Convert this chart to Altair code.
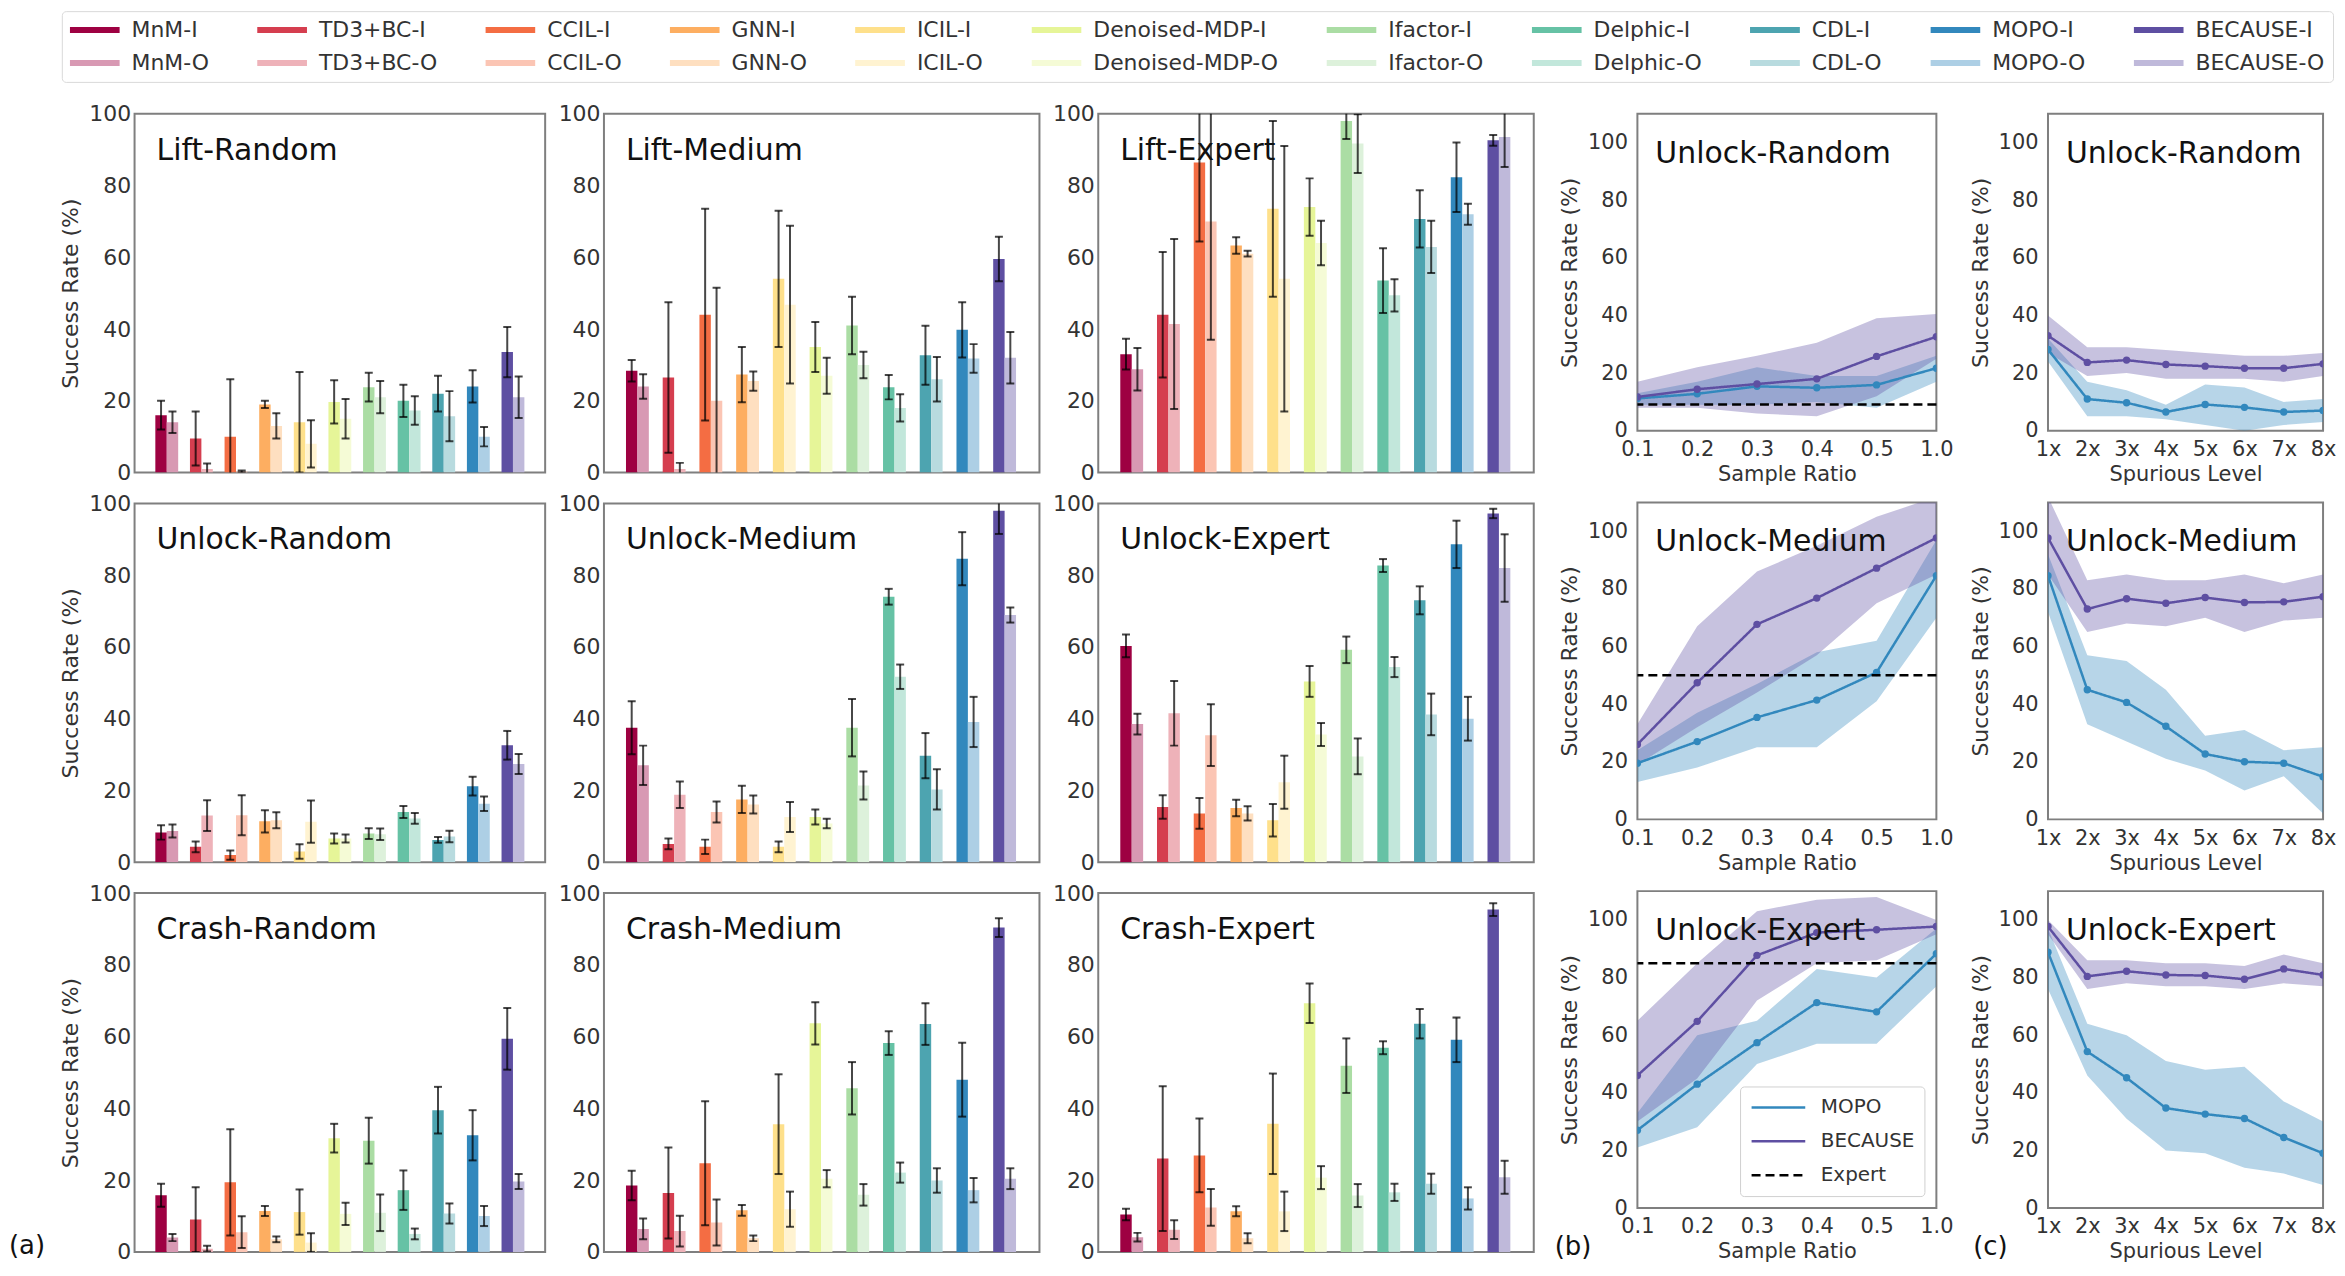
import altair as alt
import pandas as pd

FONT = "DejaVu Sans"

# ---------------- categories & colours ----------------
methods = ["MnM", "TD3+BC", "CCIL", "GNN", "ICIL", "Denoised-MDP",
           "Ifactor", "Delphic", "CDL", "MOPO", "BECAUSE"]
colors_I = ["#9e0142", "#d53e4f", "#f46d43", "#fdae61", "#fee08b", "#e6f598",
            "#abdda4", "#66c2a5", "#4da4b0", "#3288bd", "#5e4fa2"]
colors_O = ["#d899b3", "#eeb2b9", "#fbc5b4", "#fedfc0", "#fff3d1", "#f5fbd6",
            "#ddf1db", "#c2e7db", "#b8dbdf", "#adcfe5", "#bfb9da"]
# legend fills column by column: I above O for each method
series_domain = []
series_range = []
for _m, _ci, _co in zip(methods, colors_I, colors_O):
    series_domain += [_m + "-I", _m + "-O"]
    series_range += [_ci, _co]

MOPO_C = "#3288bd"
BEC_C = "#5e4fa2"

# ---------------- (a) bar values: mean and error ----------------
LIFT_RANDOM_I = [16, 9.5, 10, 19, 14, 19.7, 23.8, 20, 22, 24, 33.6]
LIFT_RANDOM_I_ERR = [4, 7.5, 16, 1, 14, 6, 4, 4.5, 5, 4.5, 7]
LIFT_RANDOM_O = [14, 1, 0.3, 13, 8, 15, 21, 17.3, 15.7, 10, 21]
LIFT_RANDOM_O_ERR = [3, 1.5, 0.3, 3.5, 6.6, 5.5, 4.5, 4, 7, 2.7, 5.8]

LIFT_MEDIUM_I = [28.4, 26.5, 44, 27.3, 54, 35, 41, 23.8, 32.7, 39.8, 59.5]
LIFT_MEDIUM_I_ERR = [3, 21, 29.5, 7.7, 19, 7, 8, 3.4, 8.2, 7.7, 6.2]
LIFT_MEDIUM_O = [24, 1, 20, 25.5, 46.8, 27, 30, 18, 26, 31.8, 32]
LIFT_MEDIUM_O_ERR = [3.4, 1.7, 31.5, 2.7, 22, 5, 3.7, 3.8, 6.2, 4, 7.2]

LIFT_EXPERT_I = [33, 44, 86.4, 63.3, 73.5, 74, 98, 53.5, 70.7, 82.3, 92.6]
LIFT_EXPERT_I_ERR = [4.3, 17.5, 22, 2.3, 24.5, 8, 5, 9, 8, 9.7, 1.5]
LIFT_EXPERT_O = [28.8, 41.4, 70, 61, 54, 64, 91.7, 49.4, 62.9, 72, 93.5]
LIFT_EXPERT_O_ERR = [5.9, 23.7, 33, 0.8, 37, 6.2, 8.2, 4.5, 7.3, 2.9, 8.3]

UNLOCK_RANDOM_I = [8.3, 4.3, 2, 11.4, 3, 6.6, 8, 14, 6.2, 21.2, 32.6]
UNLOCK_RANDOM_I_ERR = [2, 1.5, 1.3, 3.1, 2, 1.4, 1.5, 1.7, 0.8, 2.6, 4]
UNLOCK_RANDOM_O = [8.7, 13, 13.1, 11.7, 11.3, 6.6, 7.8, 12.2, 7.2, 16.3, 27.4]
UNLOCK_RANDOM_O_ERR = [1.8, 4.3, 5.6, 2.2, 5.9, 1.1, 1.6, 1.5, 1.6, 2, 2.8]

UNLOCK_MEDIUM_I = [37.5, 5.1, 4.3, 17.5, 4.3, 12.6, 37.5, 74, 29.7, 84.6, 98]
UNLOCK_MEDIUM_I_ERR = [7.4, 1.5, 2, 3.8, 1.5, 2.1, 8, 2.2, 6.3, 7.4, 6.5]
UNLOCK_MEDIUM_O = [27, 18.8, 14, 16.1, 12.6, 10.8, 21.4, 51.7, 20.3, 39.1, 68.9]
UNLOCK_MEDIUM_O_ERR = [5.5, 3.7, 2.9, 2.5, 4.2, 1.3, 3.9, 3.4, 5.6, 7, 2.1]

UNLOCK_EXPERT_I = [60.3, 15.4, 13.6, 15.1, 11.7, 50.4, 59.2, 82.7, 73, 88.6, 97.2]
UNLOCK_EXPERT_I_ERR = [3.2, 3.3, 4.3, 2.3, 4.5, 4.3, 3.7, 1.8, 3.9, 6.6, 1.3]
UNLOCK_EXPERT_O = [38.5, 41.5, 35.4, 13.6, 22.3, 35.6, 29.5, 54.4, 41.2, 40, 82]
UNLOCK_EXPERT_O_ERR = [2.9, 9, 8.6, 2, 7.4, 3.2, 5, 2.8, 5.8, 6.1, 9.4]

CRASH_RANDOM_I = [15.8, 9, 19.4, 11.4, 11.1, 31.7, 31, 17.2, 39.5, 32.5, 59.4]
CRASH_RANDOM_I_ERR = [3.2, 9, 14.8, 1.4, 6.3, 4, 6.4, 5.5, 6.5, 7, 8.6]
CRASH_RANDOM_O = [4, 0.9, 5.5, 3.5, 2.6, 10.6, 10.9, 5, 10.7, 10, 19.6]
CRASH_RANDOM_O_ERR = [1, 0.8, 4.4, 0.8, 2.6, 3.1, 5.1, 1.5, 2.8, 2.8, 2.1]

CRASH_MEDIUM_I = [18.5, 16.4, 24.7, 11.6, 35.6, 63.7, 45.6, 58.2, 63.5, 48, 90.4]
CRASH_MEDIUM_I_ERR = [4.1, 12.7, 17.3, 1.5, 13.9, 5.9, 7.3, 3.3, 5.8, 10.3, 2.6]
CRASH_MEDIUM_O = [6.4, 5.8, 8.2, 3.8, 11.9, 20.4, 15.9, 22.1, 19.9, 17.2, 20.4]
CRASH_MEDIUM_O_ERR = [2.9, 4.3, 6.4, 0.8, 4.9, 2.4, 3, 2.8, 3.4, 3.4, 2.9]

CRASH_EXPERT_I = [10.4, 26, 26.9, 11.3, 35.7, 69.3, 51.9, 56.9, 63.6, 59.1, 95.4]
CRASH_EXPERT_I_ERR = [1.6, 20.2, 10.3, 1.4, 14, 5.5, 7.6, 1.8, 4.1, 6.2, 1.8]
CRASH_EXPERT_O = [4.1, 6.2, 12.4, 3.8, 11.3, 20.7, 15.7, 16.6, 19, 14.9, 20.8]
CRASH_EXPERT_O_ERR = [1.2, 2.6, 5.1, 1.4, 5.5, 3.2, 3.2, 2.4, 2.8, 3.1, 4.6]

# ---------------- (b) sample ratio ----------------
ratios = ["0.1", "0.2", "0.3", "0.4", "0.5", "1.0"]
SR_UR_BEC = [11.7, 14.4, 16.2, 18, 25.8, 32.6]
SR_UR_BEC_LO = [8, 8, 6, 5, 12, 25]
SR_UR_BEC_HI = [17, 22, 26, 30.5, 39, 40.5]
SR_UR_MOPO = [11.2, 12.8, 15.4, 14.9, 15.9, 21.7]
SR_UR_MOPO_LO = [9, 9, 9, 10, 8, 17]
SR_UR_MOPO_HI = [13, 17, 22, 19, 19, 26]
SR_UR_EXPERT = 9.1

SR_UM_BEC = [26, 47.4, 67.7, 76.8, 87.2, 97.7]
SR_UM_BEC_LO = [19, 32, 44, 57, 75, 85]
SR_UM_BEC_HI = [33, 67, 86, 95, 105, 112]
SR_UM_MOPO = [19.5, 27, 35.4, 41.4, 51, 84.6]
SR_UM_MOPO_LO = [13, 18, 25, 25, 41, 70]
SR_UM_MOPO_HI = [24, 37, 47, 58, 62, 97]
SR_UM_EXPERT = 50

SR_UE_BEC = [46, 64.8, 87.7, 95.6, 96.6, 97.7]
SR_UE_BEC_LO = [30, 45, 72, 85, 86, 95]
SR_UE_BEC_HI = [65, 85, 103, 107, 108, 100]
SR_UE_MOPO = [27, 43, 57.4, 71.3, 68.1, 88.3]
SR_UE_MOPO_LO = [21, 28, 50, 57, 57, 77]
SR_UE_MOPO_HI = [33, 60, 65, 83, 80, 97]
SR_UE_EXPERT = 85

# ---------------- (c) spurious level ----------------
levels = ["1x", "2x", "3x", "4x", "5x", "6x", "7x", "8x"]
SL_UR_BEC = [33, 23.7, 24.5, 23, 22.4, 21.7, 21.7, 23.2]
SL_UR_BEC_LO = [27, 19, 20, 18, 18, 18, 17, 19]
SL_UR_BEC_HI = [40, 29, 29, 28, 27, 26, 26, 27]
SL_UR_MOPO = [28.2, 11, 9.7, 6.5, 9.1, 8.1, 6.5, 7]
SL_UR_MOPO_LO = [24, 5, 5, 4, 2, 0, 2, 3]
SL_UR_MOPO_HI = [32, 17, 14, 9, 16, 15, 10, 11]

SL_UM_BEC = [97.7, 73, 76.6, 75, 77, 75.3, 75.5, 77.3]
SL_UM_BEC_LO = [85, 65, 68, 67, 70, 65, 69, 70]
SL_UM_BEC_HI = [112, 83, 85, 83, 83, 85, 82, 85]
SL_UM_MOPO = [84.6, 45, 40.6, 32.3, 22.7, 20, 19.5, 14.8]
SL_UM_MOPO_LO = [72, 33, 27, 21, 17, 10, 15, 2]
SL_UM_MOPO_HI = [92, 57, 55, 45, 29, 31, 24, 25]

SL_UE_BEC = [97.7, 80.4, 82.2, 80.9, 80.7, 79.4, 83, 80.9]
SL_UE_BEC_LO = [95, 76, 78, 77, 77, 76, 78, 77]
SL_UE_BEC_HI = [100, 86, 86, 85, 85, 84, 88, 85]
SL_UE_MOPO = [88.8, 54.3, 45.2, 34.7, 32.6, 31.1, 24.5, 19]
SL_UE_MOPO_LO = [76, 46, 31, 20, 19, 14, 12, 8]
SL_UE_MOPO_HI = [97, 64, 60, 51, 48, 49, 37, 30]

# ---------------- legends ----------------
TOP_LEGEND = alt.Legend(
    title=None, orient="none", legendX=-73, legendY=-103, offset=0, columns=11,
    symbolType="M-1,-0.12L1,-0.12L1,0.12L-1,0.12Z", symbolSize=2500,
    symbolStrokeWidth=0, labelFontSize=22, labelFont=FONT, labelColor="#333",
    labelOffset=12, labelLimit=400, columnPadding=48, rowPadding=11,
    clipHeight=22, padding=8, strokeColor="#d9d9d9", fillColor="white",
    cornerRadius=4,
)
B_LEGEND = alt.Legend(
    title=None, orient="bottom-right", offset=12, symbolType="stroke",
    symbolSize=2900, symbolStrokeWidth=2.5, labelFontSize=20, labelFont=FONT,
    labelColor="#333", labelOffset=14, rowPadding=12, clipHeight=22,
    padding=10, strokeColor="#d0d0d0", fillColor="white", cornerRadius=4,
)

A_HEIGHT = 360
B_HEIGHT = 318


def tag_text(label, x, y):
    return alt.Chart(pd.DataFrame({"t": [label]})).mark_text(
        align="left", baseline="alphabetic", fontSize=26, font=FONT, color="#111"
    ).encode(text="t:N", x=alt.value(x), y=alt.value(y))


def bar_panel(title, i_mean, i_err, o_mean, o_err, width, ytitle, tag=None):
    rows = []
    for k, m in enumerate(methods):
        for var, mean, err in (("I", i_mean[k], i_err[k]), ("O", o_mean[k], o_err[k])):
            rows.append({"method": m, "var": var, "series": f"{m}-{var}",
                         "mean": mean, "lo": mean - err, "hi": mean + err})
    df = pd.DataFrame(rows)
    x = alt.X("method:N", sort=methods, axis=None,
              scale=alt.Scale(paddingInner=0.34, paddingOuter=0.6))
    xo = alt.XOffset("var:N", sort=["I", "O"],
                     scale=alt.Scale(paddingInner=0, paddingOuter=0))
    ysc = alt.Scale(domain=[0, 100], nice=False)
    yax = alt.Axis(values=[0, 20, 40, 60, 80, 100], title=ytitle,
                   labelFontSize=22, titleFontSize=22, ticks=False, domain=False,
                   grid=False, labelPadding=4, titlePadding=6,
                   titleFontWeight="normal")
    base = alt.Chart(df)
    bars = base.mark_bar(clip=True).encode(
        x=x, xOffset=xo, y=alt.Y("mean:Q", scale=ysc, axis=yax),
        fill=alt.Fill("series:N", scale=alt.Scale(domain=series_domain, range=series_range),
                      legend=TOP_LEGEND),
    )
    err = base.mark_rule(color="black", opacity=0.72, strokeWidth=2, clip=True).encode(
        x=x, xOffset=xo, y=alt.Y("lo:Q", scale=ysc, axis=yax), y2="hi:Q")
    cap_lo = base.mark_tick(color="black", opacity=0.72, thickness=2, size=8,
                            orient="horizontal", clip=True).encode(
        x=x, xOffset=xo, y=alt.Y("lo:Q", scale=ysc, axis=yax))
    cap_hi = base.mark_tick(color="black", opacity=0.72, thickness=2, size=8,
                            orient="horizontal", clip=True).encode(
        x=x, xOffset=xo, y=alt.Y("hi:Q", scale=ysc, axis=yax))
    ttl = alt.Chart(pd.DataFrame({"t": [title]})).mark_text(
        align="left", baseline="alphabetic", fontSize=30, font=FONT, color="#111"
    ).encode(text="t:N", x=alt.value(22), y=alt.value(46))
    layers = [bars, err, cap_lo, cap_hi, ttl]
    if tag:
        layers.append(tag_text(tag, -126, 362))
    return alt.layer(*layers).properties(width=width, height=A_HEIGHT)


def line_panel(title, xs, xtitle, b_mean, b_lo, b_hi, m_mean, m_lo, m_hi, width,
               expert=None, legend=False, tag=None, tag_x=-83):
    rows = []
    for k, xv in enumerate(xs):
        rows.append({"x": xv, "method": "MOPO", "mean": m_mean[k], "lo": m_lo[k], "hi": m_hi[k]})
    for k, xv in enumerate(xs):
        rows.append({"x": xv, "method": "BECAUSE", "mean": b_mean[k], "lo": b_lo[k], "hi": b_hi[k]})
    df = pd.DataFrame(rows)
    xax = alt.Axis(title=xtitle, labelAngle=0, labelFontSize=21, titleFontSize=21,
                   ticks=False, domain=False, grid=False, labelPadding=8,
                   titlePadding=4, titleFontWeight="normal")
    x = alt.X("x:N", sort=xs, scale=alt.Scale(type="point", padding=0), axis=xax)
    ysc = alt.Scale(domain=[0, 110], nice=False)
    yax = alt.Axis(values=[0, 20, 40, 60, 80, 100], title="Success Rate (%)",
                   labelFontSize=21, titleFontSize=22, ticks=False, domain=False,
                   grid=False, labelPadding=10, titlePadding=6,
                   titleFontWeight="normal")
    leg = B_LEGEND if legend else None
    sscale = alt.Scale(domain=["MOPO", "BECAUSE", "Expert"], range=[MOPO_C, BEC_C, "black"])
    dscale = alt.Scale(domain=["MOPO", "BECAUSE", "Expert"], range=[[1, 0], [1, 0], [9, 5]])
    cscale = alt.Scale(domain=["MOPO", "BECAUSE"], range=[MOPO_C, BEC_C])
    base = alt.Chart(df)
    band = base.mark_area(opacity=0.35, clip=True).encode(
        x=x, y=alt.Y("lo:Q", scale=ysc, axis=yax), y2="hi:Q",
        color=alt.Color("method:N", scale=cscale, legend=None))
    line = base.mark_line(strokeWidth=2.5, clip=True).encode(
        x=x, y=alt.Y("mean:Q", scale=ysc, axis=yax),
        stroke=alt.Stroke("method:N", scale=sscale, legend=leg),
        strokeDash=alt.StrokeDash("method:N", scale=dscale, legend=leg))
    pts = base.mark_circle(size=55, opacity=1, clip=True).encode(
        x=x, y=alt.Y("mean:Q", scale=ysc, axis=yax),
        color=alt.Color("method:N", scale=cscale, legend=None))
    layers = [band, line, pts]
    if expert is not None:
        edf = pd.DataFrame({"method": ["Expert"], "v": [expert]})
        rule = alt.Chart(edf).mark_rule(strokeWidth=2.5).encode(
            y=alt.Y("v:Q", scale=ysc, axis=yax),
            stroke=alt.Stroke("method:N", scale=sscale, legend=leg),
            strokeDash=alt.StrokeDash("method:N", scale=dscale, legend=leg))
        layers.append(rule)
    ttl = alt.Chart(pd.DataFrame({"t": [title]})).mark_text(
        align="left", baseline="alphabetic", fontSize=30, font=FONT, color="#111"
    ).encode(text="t:N", x=alt.value(18), y=alt.value(49))
    layers.append(ttl)
    if tag:
        layers.append(tag_text(tag, tag_x, 365))
    return alt.layer(*layers).properties(width=width, height=B_HEIGHT)


def indep(c):
    return c.resolve_scale(stroke="independent", strokeDash="independent")


W1, W2 = 412, 437
a1 = indep(alt.vconcat(
    bar_panel("Lift-Random", LIFT_RANDOM_I, LIFT_RANDOM_I_ERR, LIFT_RANDOM_O, LIFT_RANDOM_O_ERR, W1, "Success Rate (%)"),
    bar_panel("Unlock-Random", UNLOCK_RANDOM_I, UNLOCK_RANDOM_I_ERR, UNLOCK_RANDOM_O, UNLOCK_RANDOM_O_ERR, W1, "Success Rate (%)"),
    bar_panel("Crash-Random", CRASH_RANDOM_I, CRASH_RANDOM_I_ERR, CRASH_RANDOM_O, CRASH_RANDOM_O_ERR, W1, "Success Rate (%)", tag="(a)"),
    spacing=31, bounds="flush"))
a2 = indep(alt.vconcat(
    bar_panel("Lift-Medium", LIFT_MEDIUM_I, LIFT_MEDIUM_I_ERR, LIFT_MEDIUM_O, LIFT_MEDIUM_O_ERR, W2, None),
    bar_panel("Unlock-Medium", UNLOCK_MEDIUM_I, UNLOCK_MEDIUM_I_ERR, UNLOCK_MEDIUM_O, UNLOCK_MEDIUM_O_ERR, W2, None),
    bar_panel("Crash-Medium", CRASH_MEDIUM_I, CRASH_MEDIUM_I_ERR, CRASH_MEDIUM_O, CRASH_MEDIUM_O_ERR, W2, None),
    spacing=31, bounds="flush"))
a3 = indep(alt.vconcat(
    bar_panel("Lift-Expert", LIFT_EXPERT_I, LIFT_EXPERT_I_ERR, LIFT_EXPERT_O, LIFT_EXPERT_O_ERR, W2, None),
    bar_panel("Unlock-Expert", UNLOCK_EXPERT_I, UNLOCK_EXPERT_I_ERR, UNLOCK_EXPERT_O, UNLOCK_EXPERT_O_ERR, W2, None),
    bar_panel("Crash-Expert", CRASH_EXPERT_I, CRASH_EXPERT_I_ERR, CRASH_EXPERT_O, CRASH_EXPERT_O_ERR, W2, None),
    spacing=31, bounds="flush"))

WB, WC = 300, 276
colb = indep(alt.vconcat(
    line_panel("Unlock-Random", ratios, "Sample Ratio", SR_UR_BEC, SR_UR_BEC_LO, SR_UR_BEC_HI,
               SR_UR_MOPO, SR_UR_MOPO_LO, SR_UR_MOPO_HI, WB, expert=SR_UR_EXPERT),
    line_panel("Unlock-Medium", ratios, "Sample Ratio", SR_UM_BEC, SR_UM_BEC_LO, SR_UM_BEC_HI,
               SR_UM_MOPO, SR_UM_MOPO_LO, SR_UM_MOPO_HI, WB, expert=SR_UM_EXPERT),
    line_panel("Unlock-Expert", ratios, "Sample Ratio", SR_UE_BEC, SR_UE_BEC_LO, SR_UE_BEC_HI,
               SR_UE_MOPO, SR_UE_MOPO_LO, SR_UE_MOPO_HI, WB, expert=SR_UE_EXPERT,
               legend=True, tag="(b)", tag_x=-83),
    spacing=72, bounds="flush"))
colc = indep(alt.vconcat(
    line_panel("Unlock-Random", levels, "Spurious Level", SL_UR_BEC, SL_UR_BEC_LO, SL_UR_BEC_HI,
               SL_UR_MOPO, SL_UR_MOPO_LO, SL_UR_MOPO_HI, WC),
    line_panel("Unlock-Medium", levels, "Spurious Level", SL_UM_BEC, SL_UM_BEC_LO, SL_UM_BEC_HI,
               SL_UM_MOPO, SL_UM_MOPO_LO, SL_UM_MOPO_HI, WC),
    line_panel("Unlock-Expert", levels, "Spurious Level", SL_UE_BEC, SL_UE_BEC_LO, SL_UE_BEC_HI,
               SL_UE_MOPO, SL_UE_MOPO_LO, SL_UE_MOPO_HI, WC, tag="(c)", tag_x=-75),
    spacing=72, bounds="flush"))

left = indep(alt.hconcat(a1, a2, a3, spacing=11))
mid = indep(alt.hconcat(left, colb, spacing=19))
chart = indep(alt.hconcat(mid, colc, spacing=13)).properties(padding=0)

chart = (
    chart.configure(font=FONT)
    .configure_view(stroke="#7f7f7f", strokeWidth=2)
    .configure_axis(labelColor="#333", titleColor="#333", labelFont=FONT, titleFont=FONT)
    .configure_legend(labelFont=FONT)
)

chart.save("out.html", embed_options={"renderer": "svg", "actions": False})
